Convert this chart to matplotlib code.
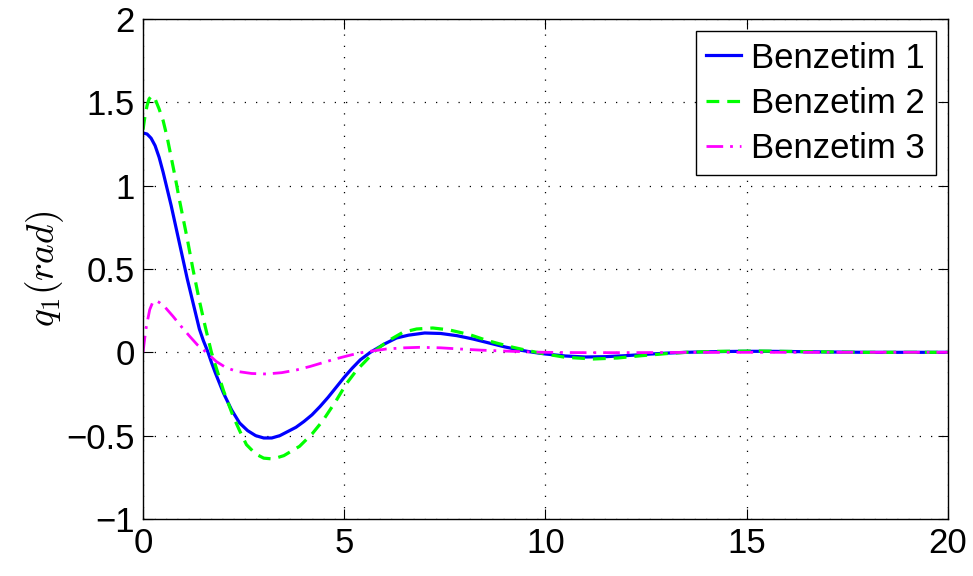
import matplotlib.pyplot as plt

plt.rcParams['font.family'] = ['Liberation Sans', 'DejaVu Sans']
plt.rcParams['mathtext.fontset'] = 'cm'

# values
t1 = [0, 0.1, 0.2, 0.3, 0.4, 0.5, 0.6, 0.7, 0.8, 0.9, 1.0, 1.1, 1.2, 1.3, 1.4, 1.5,
      1.6, 1.7, 1.8, 1.9, 2.0, 2.2, 2.4, 2.6, 2.8, 3.0, 3.2, 3.4, 3.64, 3.8, 4.0, 4.2,
      4.4, 4.6, 4.8, 5.0, 5.2, 5.4, 5.65, 6.0, 6.3, 6.6, 7.0, 7.4, 7.8, 8.2, 8.6, 9.0,
      9.4, 9.7, 10.0, 10.5, 11.0, 11.5, 12.0, 12.5, 13.0, 13.5, 14.0, 14.5, 15.0, 15.5,
      16.0, 17.0, 18.0, 20.0]
q1 = [1.316, 1.31, 1.285, 1.24, 1.17, 1.08, 0.98, 0.88, 0.77, 0.66, 0.55, 0.44, 0.34,
      0.24, 0.14, 0.07, 0.01, -0.06, -0.125, -0.185, -0.245, -0.345, -0.424, -0.47,
      -0.5, -0.514, -0.514, -0.5, -0.47, -0.45, -0.415, -0.375, -0.325, -0.27, -0.21,
      -0.15, -0.095, -0.045, 0.0, 0.05, 0.086, 0.103, 0.116, 0.113, 0.1, 0.08, 0.056,
      0.032, 0.012, 0.0, -0.01, -0.022, -0.028, -0.026, -0.02, -0.012, -0.005, 0.0,
      0.003, 0.005, 0.006, 0.006, 0.005, 0.002, 0.0, 0.0]

t2 = [0, 0.05, 0.1, 0.15, 0.215, 0.3, 0.4, 0.5, 0.6, 0.7, 0.8, 0.9, 1.0, 1.1, 1.24,
      1.4, 1.55, 1.7, 1.86, 2.0, 2.24, 2.4, 2.57, 2.8, 3.0, 3.23, 3.5, 3.89, 4.2, 4.47,
      4.8, 5.05, 5.3, 5.5, 5.8, 6.1, 6.46, 6.8, 7.2, 7.6, 8.12, 8.5, 8.78, 9.2, 9.57,
      10.0, 10.5, 11.2, 11.8, 12.4, 13.0, 13.5, 14.3, 15.3, 16.5, 18.0, 20.0]
q2 = [1.336, 1.42, 1.48, 1.52, 1.54, 1.52, 1.46, 1.39, 1.29, 1.17, 1.05, 0.92, 0.8,
      0.68, 0.5, 0.31, 0.15, 0.0, -0.124, -0.23, -0.384, -0.47, -0.554, -0.61, -0.635,
      -0.64, -0.62, -0.564, -0.49, -0.41, -0.29, -0.19, -0.11, -0.06, 0.016, 0.07, 0.12,
      0.14, 0.146, 0.135, 0.106, 0.075, 0.056, 0.03, 0.01, -0.01, -0.03, -0.04, -0.034,
      -0.02, -0.008, 0.0, 0.006, 0.008, 0.004, 0.0, 0.0]

t3 = [0, 0.04, 0.084, 0.166, 0.24, 0.315, 0.4, 0.55, 0.745, 0.95, 1.16, 1.35, 1.575,
      1.82, 2.05, 2.32, 2.7, 3.07, 3.45, 3.81, 4.15, 4.47, 4.75, 4.97, 5.2, 5.47, 6.05,
      6.5, 6.88, 7.4, 7.87, 8.4, 8.94, 9.5, 10.0, 11.0, 12.0, 14.0, 20.0]
q3 = [0.0, 0.08, 0.156, 0.256, 0.3, 0.31, 0.3, 0.27, 0.216, 0.155, 0.096, 0.045, 0.0,
      -0.055, -0.09, -0.114, -0.127, -0.13, -0.122, -0.106, -0.085, -0.062, -0.042,
      -0.028, -0.014, 0.0, 0.02, 0.027, 0.03, 0.027, 0.02, 0.013, 0.008, 0.003, 0.0,
      -0.002, -0.002, 0.0, 0.0]

labels = ['Benzetim 1', 'Benzetim 2', 'Benzetim 3']

fig = plt.figure(figsize=(9.73, 5.76), dpi=100)
ax = fig.add_axes([0.147, 0.099, 0.827, 0.868])

ax.plot(t1, q1, color='#0000ff', lw=2.3, label=labels[0])
ax.plot(t2, q2, color='#00ff00', lw=2.3, ls=(0, (4, 2.5)), label=labels[1])
ax.plot(t3, q3, color='#ff00ff', lw=2.0, ls=(0, (6, 2.5, 1, 2.5)), label=labels[2])

ax.set_xlim(0, 20)
ax.set_ylim(-1, 2)
ax.set_xticks([0, 5, 10, 15, 20])
ax.set_yticks([-1, -0.5, 0, 0.5, 1, 1.5, 2])
ax.set_yticklabels(['\u22121', '\u22120.5', '0', '0.5', '1', '1.5', '2'])
ax.tick_params(direction='in', length=7, width=0.8, labelsize=25,
               top=True, right=True, pad=6)
ax.grid(True, color='black', ls=(0, (1, 8)), lw=0.9)
for s in ax.spines.values():
    s.set_linewidth(1.0)

ax.set_ylabel('$q_1(rad)$', fontsize=27, labelpad=0)

leg = ax.legend(loc='upper right', fontsize=25, fancybox=False, framealpha=1,
                edgecolor='black', handlelength=1.0, handletextpad=0.3,
                labelspacing=0.35, borderpad=0.3, borderaxespad=0.35)
leg.get_frame().set_linewidth(1.0)

fig.savefig('out.png', dpi=100)
